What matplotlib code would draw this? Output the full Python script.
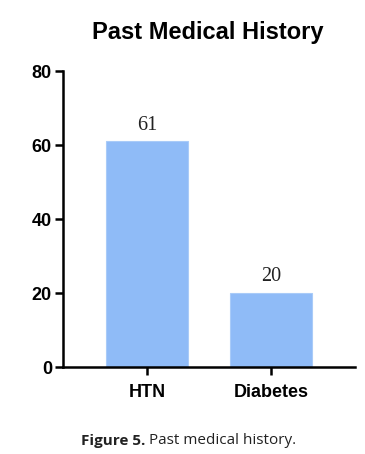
import matplotlib
matplotlib.use("Agg")
import matplotlib.pyplot as plt

categories = ["HTN", "Diabetes"]
counts = [61, 20]
y_ticks = [0, 20, 40, 60, 80]

bar_color = "#8fbbf7"

fig = plt.figure(figsize=(3.65, 4.54), dpi=100)
ax = fig.add_axes([0.1726, 0.1916, 0.80, 0.652])

x = list(range(len(categories)))
bars = ax.bar(x, counts, width=0.66, color=bar_color, edgecolor="#a9cbf8", linewidth=0.8, zorder=2)

for xi, v in zip(x, counts):
    ax.text(xi, v + 1.8, str(v), ha="center", va="bottom",
            fontsize=14.5, family="Liberation Serif", color="#222222")

ax.set_xlim(-0.68, 1.68)
ax.set_ylim(0, 80)
ax.set_yticks(y_ticks)
ax.set_xticks(x)
ax.set_xticklabels(categories)

for s in ["top", "right"]:
    ax.spines[s].set_visible(False)
for s in ["left", "bottom"]:
    ax.spines[s].set_linewidth(1.8)
    ax.spines[s].set_color("black")

ax.tick_params(axis="both", width=1.8, length=6, labelsize=13, pad=2)
ax.tick_params(axis="x", pad=6)
for lab in ax.get_xticklabels() + ax.get_yticklabels():
    lab.set_family("Liberation Sans")
    lab.set_fontweight("bold")

fig.text(0.57, 0.928, "Past Medical History", ha="center", va="center",
         fontsize=17, fontweight="bold", family="Liberation Sans")

fig.text(145 / 365, 0.029, "Figure 5.", ha="right", va="center",
         fontsize=11, fontweight="bold", family="Open Sans", color="#222222")
fig.text(149 / 365, 0.029, "Past medical history.", ha="left", va="center",
         fontsize=11, family="Open Sans", color="#222222")

fig.savefig("out.png", dpi=100)
